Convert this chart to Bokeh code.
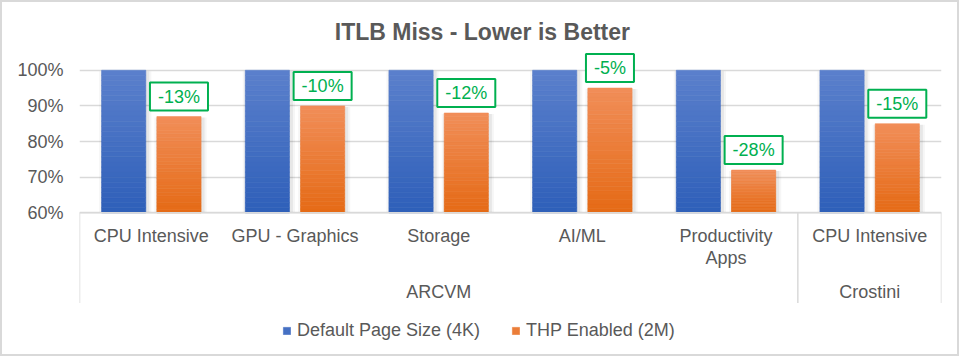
from bokeh.plotting import figure
from bokeh.models import (Range1d, FixedTicker, Label, ColumnDataSource, Legend,
                          LegendItem, PrintfTickFormatter)
from bokeh.embed import file_html
from bokeh.resources import INLINE
from bokeh.core.properties import value

# ---------------- data ----------------
chart_title = "ITLB Miss - Lower is Better"
groups = ["ARCVM", "ARCVM", "ARCVM", "ARCVM", "ARCVM", "Crostini"]
categories = ["CPU Intensive", "GPU - Graphics", "Storage", "AI/ML",
              "Productivity\nApps", "CPU Intensive"]
series_names = ["Default Page Size (4K)", "THP Enabled (2M)"]
default_4k = [100, 100, 100, 100, 100, 100]
thp_2m = [87, 90, 88, 95, 72, 85]
y_ticks = [60, 70, 80, 90, 100]

# ---------------- style ----------------
FONT = "Liberation Sans"
TEXT = "#595959"
GRID = "#D9D9D9"
GREEN = "#00B050"
BLUE_TOP, BLUE_BOT = "#5B80CC", "#2E5FB9"
ORANGE_TOP, ORANGE_BOT = "#F18E59", "#E56A15"

# ---------------- layout (page pixels) ----------------
B = 2                      # outer border width
CW, CH = 955, 352          # canvas size inside border
PLOT_L, PLOT_R = 79, 937   # plot area left/right
Y_TOP_PX, Y_BASE_PX = 69, 210
n = len(categories)
y_base = y_ticks[0]
px_per_x = (PLOT_R - PLOT_L) / n
px_per_y = (Y_BASE_PX - Y_TOP_PX) / (y_ticks[-1] - y_ticks[0])


def xd(px):
    return (px - PLOT_L) / px_per_x


def yd(py):
    return y_base + (Y_BASE_PX - py) / px_per_y


def wd(px):
    return px / px_per_x


BAR_W = wd(44)
OFF = wd(27.5)

p = figure(width=CW, height=CH, output_backend="svg", toolbar_location=None,
           tools="", title=None, x_axis_location=None,
           x_range=Range1d(0, n), y_range=Range1d(yd(B + CH), yd(B)),
           min_border_left=PLOT_L - B, min_border_right=(B + CW) - PLOT_R,
           min_border_top=0, min_border_bottom=0)
p.styles = {"border": f"{B}px solid {GRID}", "box-sizing": "content-box"}
p.outline_line_color = None
p.background_fill_color = "white"
p.border_fill_color = "white"
p.xgrid.visible = False
p.ygrid.ticker = FixedTicker(ticks=y_ticks)
p.ygrid.grid_line_color = GRID
p.ygrid.grid_line_width = 1.5

ax = p.yaxis[0]
ax.ticker = FixedTicker(ticks=y_ticks)
ax.formatter = PrintfTickFormatter(format="%d%%")
ax.axis_line_color = None
ax.major_tick_line_color = None
ax.minor_tick_line_color = None
ax.major_tick_out = 0
ax.major_tick_in = 0
ax.major_label_standoff = 16
ax.major_label_text_font = FONT
ax.major_label_text_font_size = "18px"
ax.major_label_text_color = TEXT


def hex2rgb(h):
    return tuple(int(h[i:i + 2], 16) for i in (1, 3, 5))


def mix(c_bot, c_top, t):
    a, b = hex2rgb(c_bot), hex2rgb(c_top)
    return "#%02x%02x%02x" % tuple(round(a[j] + (b[j] - a[j]) * t) for j in range(3))


NSL = 28


def gradient_source(xs, vals, top_c, bot_c):
    d = dict(x=[], bottom=[], top=[], color=[])
    for x, v in zip(xs, vals):
        for k in range(NSL):
            d["x"].append(x)
            d["bottom"].append(y_base + (v - y_base) * k / NSL)
            d["top"].append(y_base + (v - y_base) * (k + 1) / NSL)
            d["color"].append(mix(bot_c, top_c, (k + 0.5) / NSL))
    return ColumnDataSource(d)


centers = [i + 0.5 for i in range(n)]
series = [(default_4k, -OFF, BLUE_TOP, BLUE_BOT), (thp_2m, OFF, ORANGE_TOP, ORANGE_BOT)]
items = []
for name, (vals, off, ct, cb) in zip(series_names, series):
    xs = [c + off for c in centers]
    # soft shadow
    p.vbar(x=[x + wd(1.5) for x in xs], width=BAR_W + wd(8), bottom=y_base,
           top=[v - 1 / px_per_y for v in vals], fill_color="black", fill_alpha=0.035,
           line_color=None)
    p.vbar(x=[x + wd(1.5) for x in xs], width=BAR_W + wd(4), bottom=y_base,
           top=[v - 1 / px_per_y for v in vals], fill_color="black", fill_alpha=0.06,
           line_color=None)
    src = gradient_source(xs, vals, ct, cb)
    r = p.vbar(x="x", width=BAR_W, bottom="bottom", top="top", source=src,
               fill_color="color", line_color="color", line_width=0.6)
    items.append(LegendItem(label=name, renderers=[r], index=NSL // 2))

# axis base line and group separators
p.segment(x0=[0], y0=[y_base], x1=[n], y1=[y_base], line_color=GRID, line_width=1.5)
bounds = [0] + [i for i in range(1, n) if groups[i] != groups[i - 1]] + [n]
p.segment(x0=bounds, y0=[y_base] * len(bounds), x1=bounds,
          y1=[yd(299)] * len(bounds), line_color=GRID, line_width=1.5)

# category labels
p.text(x=centers, y=[yd(222.5)] * n, text=categories, text_align="center",
       text_baseline="top", text_font=value(FONT), text_font_size="18px",
       text_color=TEXT, text_line_height=1.13)

# group labels
gx, gt = [], []
for a, b in zip(bounds[:-1], bounds[1:]):
    gx.append((a + b) / 2)
    gt.append(groups[a])
p.text(x=gx, y=[yd(278.3)] * len(gx), text=gt, text_align="center",
       text_baseline="top", text_font=value(FONT), text_font_size="18px",
       text_color=TEXT)

# change labels
for i, (d, t) in enumerate(zip(default_4k, thp_2m)):
    pct = round((t - d) / d * 100)
    p.add_layout(Label(x=centers[i] + OFF, y=t, y_offset=20, text=f"{pct}%",
                       text_align="center", text_baseline="middle",
                       text_font=FONT, text_font_size="18px", text_color=GREEN,
                       border_line_color=GREEN, border_line_width=2,
                       background_fill_color="white", padding=(8, 4)))

# title
p.add_layout(Label(x=xd(480), y=yd(31), text=chart_title, text_align="center",
                   text_baseline="middle", text_font=FONT, text_font_size="23px",
                   text_font_style="bold", text_color=TEXT))

legend = Legend(items=items, location=(282 - PLOT_L, 17), orientation="horizontal",
                glyph_width=9, glyph_height=9, label_text_font=FONT,
                label_text_font_size="18px", label_text_color=TEXT,
                label_standoff=6, spacing=31, padding=0, margin=0,
                border_line_alpha=0, background_fill_alpha=0)
p.add_layout(legend)

open("out.html", "w").write(file_html(p, INLINE))
